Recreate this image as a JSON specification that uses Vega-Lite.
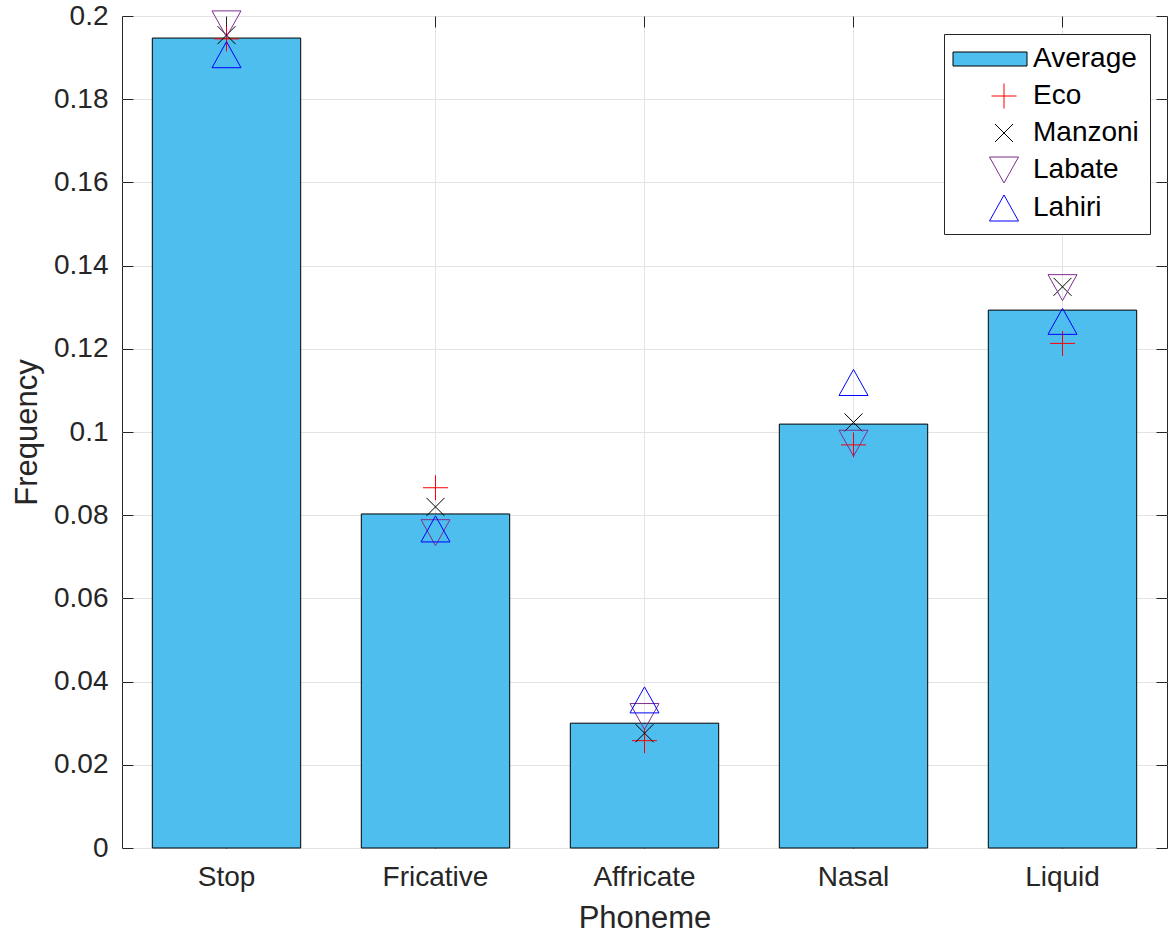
{
  "$schema": "https://vega.github.io/schema/vega-lite/v6.json",
  "width": 1045,
  "height": 832,
  "autosize": {"type": "none"},
  "padding": {"left": 122, "top": 16, "right": 1, "bottom": 88},
  "background": "white",
  "config": {
    "font": "Liberation Sans",
    "view": {"stroke": "#262626", "strokeWidth": 1},
    "axis": {
      "labelFont": "Liberation Sans",
      "titleFont": "Liberation Sans",
      "labelFontSize": 28,
      "titleFontSize": 31,
      "labelColor": "#262626",
      "titleColor": "#262626",
      "titleFontWeight": "normal",
      "tickColor": "#262626",
      "domain": false,
      "gridColor": "#e3e3e3",
      "gridWidth": 1
    }
  },
  "data": {
    "values": [
      {"phoneme": "Stop", "series": "Average", "value": 0.1947},
      {"phoneme": "Stop", "series": "Eco", "value": 0.1945},
      {"phoneme": "Stop", "series": "Manzoni", "value": 0.1954},
      {"phoneme": "Stop", "series": "Labate", "value": 0.1981},
      {"phoneme": "Stop", "series": "Lahiri", "value": 0.1907},
      {"phoneme": "Fricative", "series": "Average", "value": 0.0803},
      {"phoneme": "Fricative", "series": "Eco", "value": 0.0866},
      {"phoneme": "Fricative", "series": "Manzoni", "value": 0.0820},
      {"phoneme": "Fricative", "series": "Labate", "value": 0.0758},
      {"phoneme": "Fricative", "series": "Lahiri", "value": 0.0767},
      {"phoneme": "Affricate", "series": "Average", "value": 0.0300},
      {"phoneme": "Affricate", "series": "Eco", "value": 0.0258},
      {"phoneme": "Affricate", "series": "Manzoni", "value": 0.0276},
      {"phoneme": "Affricate", "series": "Labate", "value": 0.0316},
      {"phoneme": "Affricate", "series": "Lahiri", "value": 0.0356},
      {"phoneme": "Nasal", "series": "Average", "value": 0.1019},
      {"phoneme": "Nasal", "series": "Eco", "value": 0.0969},
      {"phoneme": "Nasal", "series": "Manzoni", "value": 0.1023},
      {"phoneme": "Nasal", "series": "Labate", "value": 0.0973},
      {"phoneme": "Nasal", "series": "Lahiri", "value": 0.1119},
      {"phoneme": "Liquid", "series": "Average", "value": 0.1293},
      {"phoneme": "Liquid", "series": "Eco", "value": 0.1213},
      {"phoneme": "Liquid", "series": "Manzoni", "value": 0.1349},
      {"phoneme": "Liquid", "series": "Labate", "value": 0.1347},
      {"phoneme": "Liquid", "series": "Lahiri", "value": 0.1266}
    ]
  },
  "resolve": {"axis": {"x": "independent", "y": "independent"}},
  "layer": [
    {
      "transform": [{"filter": "datum.series === 'Average'"}],
      "mark": {"type": "bar", "fill": "#4DBEEE", "stroke": "#000000", "strokeWidth": 1},
      "encoding": {
        "x": {
          "field": "phoneme", "type": "nominal",
          "sort": ["Stop", "Fricative", "Affricate", "Nasal", "Liquid"],
          "scale": {"paddingInner": 0.29, "paddingOuter": 0.145},
          "axis": {"orient": "bottom", "title": "Phoneme", "labelAngle": 0, "grid": true, "bandPosition": 0.5, "tickSize": -11, "labelPadding": 26, "titlePadding": 12}
        },
        "y": {
          "field": "value", "type": "quantitative",
          "scale": {"domain": [0, 0.2], "nice": false, "zero": true},
          "axis": {"orient": "left", "title": "Frequency", "values": [0, 0.02, 0.04, 0.06, 0.08, 0.1, 0.12, 0.14, 0.16, 0.18, 0.2], "format": "~g", "grid": true, "tickSize": -11, "labelPadding": 25, "titlePadding": 10}
        }
      }
    },
    {
      "transform": [{"filter": "datum.series !== 'Average'"}],
      "mark": {"type": "point", "size": 100, "strokeWidth": 1, "opacity": 1},
      "encoding": {
        "x": {
          "field": "phoneme", "type": "nominal",
          "sort": ["Stop", "Fricative", "Affricate", "Nasal", "Liquid"],
          "axis": {"orient": "top", "title": null, "labels": false, "grid": false, "bandPosition": 0.5, "tickSize": -11}
        },
        "y": {
          "field": "value", "type": "quantitative",
          "axis": {"orient": "right", "title": null, "labels": false, "grid": false, "values": [0, 0.02, 0.04, 0.06, 0.08, 0.1, 0.12, 0.14, 0.16, 0.18, 0.2], "tickSize": -11}
        },
        "stroke": {
          "field": "series", "type": "nominal",
          "scale": {"domain": ["Average", "Eco", "Manzoni", "Labate", "Lahiri"], "range": ["#000000", "#FF0000", "#000000", "#7E2F8E", "#0000FF"]},
          "legend": {
            "title": null,
            "orient": "none",
            "legendX": 822,
            "legendY": 18,
            "fillColor": "white",
            "strokeColor": "#262626",
            "padding": 11,
            "labelFont": "Liberation Sans",
            "labelFontSize": 28,
            "labelColor": "#000000",
            "symbolSize": 100,
            "symbolStrokeWidth": 1,
            "symbolOpacity": 1,
            "rowPadding": 8,
            "symbolOffset": 35,
            "labelOffset": 15
          }
        },
        "fill": {
          "field": "series", "type": "nominal",
          "scale": {"domain": ["Average", "Eco", "Manzoni", "Labate", "Lahiri"], "range": ["#4DBEEE", "transparent", "transparent", "transparent", "transparent"]},
          "legend": {"title": null}
        },
        "shape": {
          "field": "series", "type": "nominal",
          "scale": {"domain": ["Average", "Eco", "Manzoni", "Labate", "Lahiri"], "range": [
            "M-10.2,-1.4H4.6V1.4H-10.2Z",
            "M-2.5,0H2.5M0,-2.5V2.5",
            "M-1.8,-1.8L1.8,1.8M-1.8,1.8L1.8,-1.8",
            "M-2.9,-2.6L2.9,-2.6L0,2.6Z",
            "M-2.9,2.6L2.9,2.6L0,-2.6Z"
          ]},
          "legend": {"title": null}
        }
      }
    }
  ]
}
